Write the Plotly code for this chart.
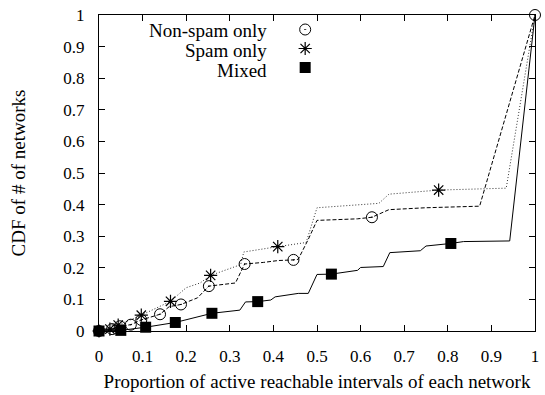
import plotly.graph_objects as go

# ---- data ----
nonspam_x = [0, 0.03, 0.048, 0.073, 0.097, 0.14, 0.161, 0.188, 0.226, 0.252, 0.313, 0.334,
             0.377, 0.411, 0.446, 0.457, 0.48, 0.5, 0.593, 0.626, 0.665, 0.749, 0.873, 1.0]
nonspam_y = [0, 0.006, 0.015, 0.02, 0.035, 0.053, 0.077, 0.084, 0.105, 0.142, 0.152, 0.212,
             0.217, 0.223, 0.225, 0.227, 0.29, 0.35, 0.355, 0.36, 0.384, 0.39, 0.395, 1.0]
nonspam_marks = [0, 1, 2, 3, 4, 5, 7, 9, 11, 14, 19, 23]

spam_x = [0, 0.025, 0.044, 0.097, 0.164, 0.2, 0.232, 0.256, 0.325, 0.332, 0.41, 0.475,
          0.5, 0.642, 0.665, 0.748, 0.779, 0.934, 1.0]
spam_y = [0, 0.006, 0.019, 0.05, 0.094, 0.137, 0.152, 0.176, 0.21, 0.25, 0.267, 0.28,
          0.39, 0.404, 0.433, 0.444, 0.446, 0.452, 1.0]
spam_marks = [0, 1, 2, 3, 4, 7, 10, 16]

mixed_x = [0, 0.05, 0.107, 0.175, 0.259, 0.323, 0.336, 0.364, 0.394, 0.404, 0.457, 0.48,
           0.5, 0.533, 0.593, 0.6, 0.652, 0.667, 0.737, 0.75, 0.807, 0.836, 0.942, 1.0]
mixed_y = [0, 0.002, 0.012, 0.027, 0.056, 0.066, 0.092, 0.093, 0.098, 0.108, 0.119, 0.119,
           0.179, 0.18, 0.192, 0.201, 0.204, 0.248, 0.254, 0.269, 0.277, 0.283, 0.285, 1.0]
mixed_marks = [0, 1, 2, 3, 4, 7, 13, 20]

series_names = ["Non-spam only", "Spam only", "Mixed"]
tick_vals = [0, 0.1, 0.2, 0.3, 0.4, 0.5, 0.6, 0.7, 0.8, 0.9, 1.0]
tick_text = ["0", "0.1", "0.2", "0.3", "0.4", "0.5", "0.6", "0.7", "0.8", "0.9", "1"]

FONT = "Liberation Serif"

styles = [
    dict(x=nonspam_x, y=nonspam_y, m=nonspam_marks, dash="4px,2px", color="#000000",
         marker=dict(symbol="circle-open-dot", size=11, color="black", line=dict(width=1, color="black"))),
    dict(x=spam_x, y=spam_y, m=spam_marks, dash="1px,2px", color="#333333",
         marker=dict(symbol="asterisk-open", size=11, color="black", line=dict(width=1.2, color="black"))),
    dict(x=mixed_x, y=mixed_y, m=mixed_marks, dash="solid", color="#000000",
         marker=dict(symbol="square", size=11, color="black", line=dict(width=0))),
]

fig = go.Figure()
for name, s in zip(series_names, styles):
    fig.add_trace(go.Scatter(x=s["x"], y=s["y"], mode="lines",
                             line=dict(color=s["color"], width=1, dash=s["dash"]),
                             showlegend=False, hoverinfo="skip", cliponaxis=False))
for name, s in zip(series_names, styles):
    fig.add_trace(go.Scatter(x=[s["x"][i] for i in s["m"]], y=[s["y"][i] for i in s["m"]],
                             mode="markers", marker=s["marker"], name="", cliponaxis=False,
                             legendgroup=name, showlegend=True, hovertext=name))

# legend labels as right-aligned text (gnuplot style: text left of the symbol)
for i, name in enumerate(series_names):
    fig.add_annotation(text=name, xref="paper", yref="paper", x=0.39, y=0.95 - i * 0.0625,
                       xanchor="right", yanchor="middle", showarrow=False,
                       font=dict(family=FONT, size=19, color="black"))

axis_common = dict(range=[0, 1], tickvals=tick_vals, ticktext=tick_text, ticks="inside",
                   ticklen=6, tickwidth=1, tickcolor="black", showline=True, linecolor="black",
                   linewidth=1.2, mirror="ticks", showgrid=False, zeroline=False,
                   tickfont=dict(family=FONT, size=17, color="black"))

fig.update_layout(
    width=545, height=395,
    margin=dict(l=99, r=6, t=12, b=63),
    paper_bgcolor="white", plot_bgcolor="white",
    font=dict(family=FONT, size=17, color="black"),
    xaxis=dict(**axis_common, ticklabelstandoff=9,
               title=dict(text="Proportion of active reachable intervals of each network",
                          font=dict(family=FONT, size=19), standoff=10)),
    yaxis=dict(**axis_common, ticklabelstandoff=10,
               title=dict(text="CDF of # of networks", font=dict(family=FONT, size=19), standoff=32)),
    legend=dict(x=0.427, y=1.0, xanchor="left", yanchor="top", bgcolor="rgba(0,0,0,0)",
                font=dict(family=FONT, size=12), tracegroupgap=0, itemwidth=30),
)

fig.write_html("out.html", config={"displayModeBar": False},
               post_script="document.body.style.margin='0';document.body.style.padding='0';")
